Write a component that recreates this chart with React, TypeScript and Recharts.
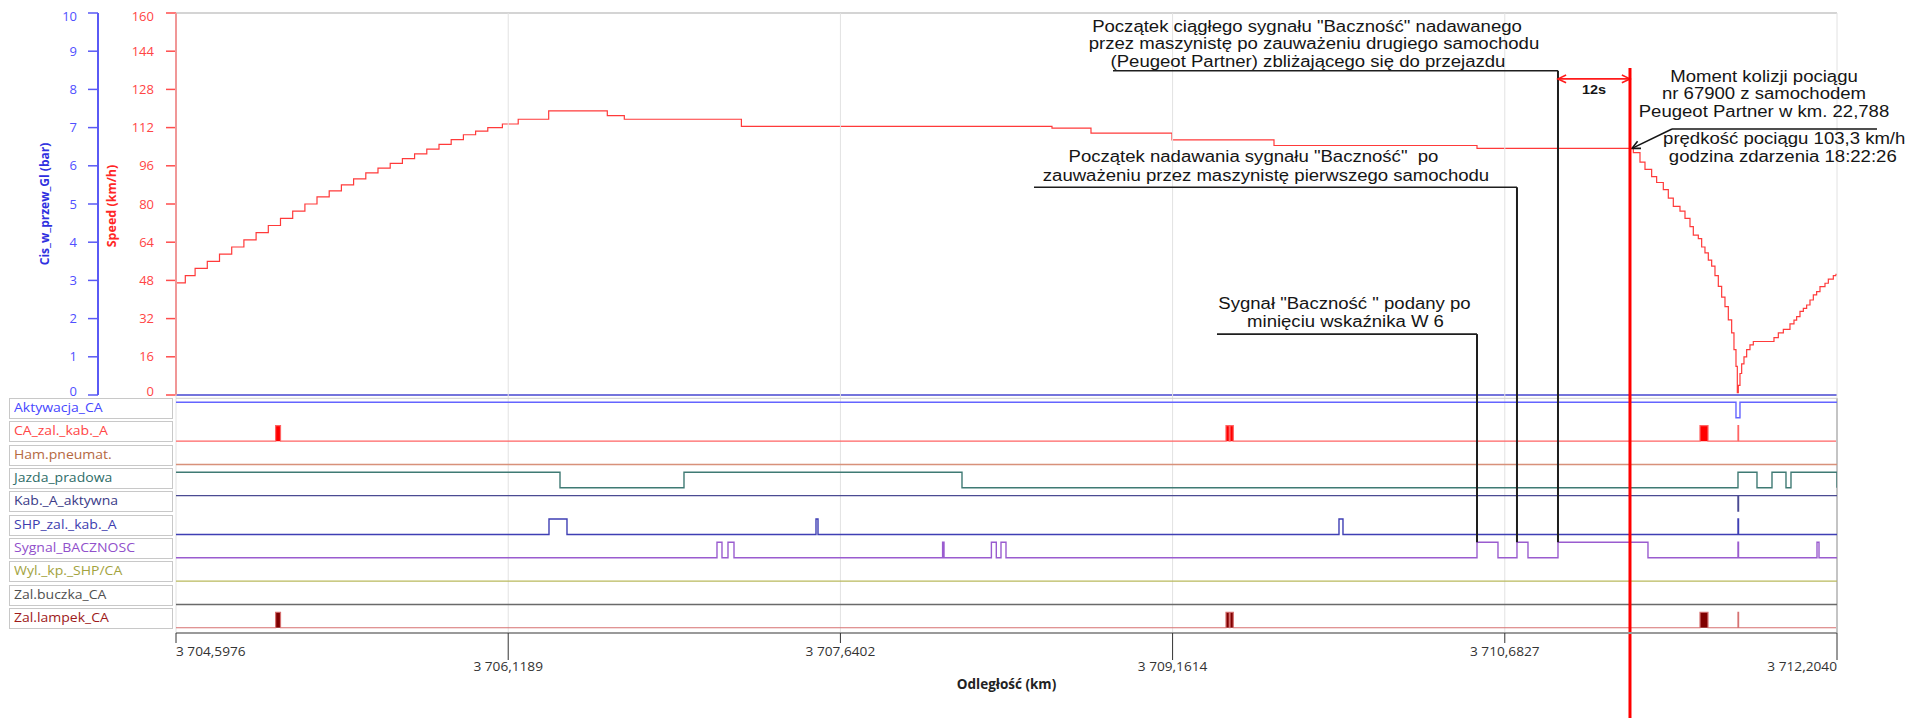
import React from 'react'
import {
  ComposedChart,
  LineChart,
  Line,
  Area,
  XAxis,
  YAxis,
  ReferenceLine,
  ReferenceDot,
  CartesianGrid,
} from 'recharts'

// distance axis (km)
const X_MIN = 3704.5976
const X_MAX = 3712.204
const X_TICKS = [3704.5976, 3706.1189, 3707.6402, 3709.1614, 3710.6827, 3712.204]
const X_TICK_LABELS = ['3 704,5976', '3 706,1189', '3 707,6402', '3 709,1614', '3 710,6827', '3 712,2040']
const SPEED_TICKS = [0, 16, 32, 48, 64, 80, 96, 112, 128, 144, 160]
const BAR_TICKS = [0, 1, 2, 3, 4, 5, 6, 7, 8, 9, 10]

// speed record (stepped)
const SPEED_KM = [
  3704.5976, 3704.6402, 3704.6851, 3704.7409, 3704.7968, 3704.8527, 3704.9085, 3704.9644, 3705.0203,
  3705.0761, 3705.132, 3705.1879, 3705.2433, 3705.2992, 3705.355, 3705.4109, 3705.4668, 3705.5226,
  3705.5785, 3705.6344, 3705.6902, 3705.7461, 3705.802, 3705.8578, 3705.9137, 3705.9696, 3706.0254,
  3706.0923, 3706.1647, 3706.3043, 3706.5727, 3706.6506, 3707.1868, 3708.6091, 3708.7877, 3709.1587,
  3709.6258, 3710.5554, 3711.2713, 3711.3018, 3711.3247, 3711.3552, 3711.3781, 3711.4086, 3711.4315,
  3711.4544, 3711.485, 3711.5079, 3711.5308, 3711.546, 3711.5689, 3711.5842, 3711.5994, 3711.6147,
  3711.63, 3711.6452, 3711.6605, 3711.6758, 3711.691, 3711.7063, 3711.7216, 3711.7322, 3711.7414,
  3711.7475, 3711.7521, 3711.7597, 3711.7674, 3711.778, 3711.7903, 3711.8055, 3711.8208, 3711.9154,
  3711.9353, 3711.9582, 3711.9887, 3712.007, 3712.0192, 3712.0345, 3712.0498, 3712.065, 3712.0803,
  3712.0956, 3712.1108, 3712.1261, 3712.149, 3712.1643, 3712.1871, 3712.1994, 3712.204,
]
const SPEED_KMH = [
  47, 50, 53, 56, 59, 62, 65, 68, 71,
  74, 77, 80, 83, 85.5, 88, 90.5, 93, 95,
  97, 99, 101, 103, 105, 107, 109, 110.5, 112,
  113.5, 115.5, 119, 117, 115.5, 112.5, 111.8, 109.7, 106.9,
  104.5, 103.3, 101.5, 97.5, 94.5, 91.5, 89, 86, 82.5,
  79, 77, 74, 70.5, 67, 65.5, 62, 59.5, 56.5,
  54, 50, 45.5, 41, 37, 31.5, 26, 19, 12,
  1, 4, 9, 13, 16, 19, 21, 22.4, 24,
  26, 27.5, 29.8, 31.4, 32.8, 35, 36.3, 37.7, 39.8,
  41.9, 43.3, 45.4, 46.8, 48.5, 50, 50.5, 50.5,
]
const PRESSURE_KM = [X_MIN, X_MAX]
const PRESSURE_BAR = [0, 0]

// binary signals (value after each change point)
const AKT_KM = [X_MIN, 3711.7414, 3711.7597, X_MAX]
const AKT_VAL = [1, 0, 1, 1]
const CA_ZAL_KM = [X_MIN, 3705.0537, 3705.0762, 3709.4059, 3709.421, 3709.4243, 3709.4394, 3711.5766, 3711.6132, 3711.7506, 3711.7534, X_MAX]
const CA_ZAL_VAL = [0, 1, 0, 1, 0, 1, 0, 1, 0, 1, 0, 1]
const HAM_KM = [X_MIN, X_MAX]
const HAM_VAL = [0, 0]
const JAZDA_KM = [X_MIN, 3706.3561, 3706.9239, 3708.197, 3711.7506, 3711.8376, 3711.9063, 3711.9704, 3711.9933, X_MAX]
const JAZDA_VAL = [1, 0, 1, 0, 1, 0, 1, 0, 1, 0]
const KAB_KM = [X_MIN, 3711.7506, 3711.753, X_MAX]
const KAB_VAL = [1, 0, 1, 1]
const SHP_KM = [X_MIN, 3706.3057, 3706.3881, 3707.5284, 3707.5376, 3709.9234, 3709.9417, 3711.7506, 3711.753, X_MAX]
const SHP_VAL = [0, 1, 0, 1, 0, 1, 0, 1, 0, 0]
const SYG_KM = [
  X_MIN, 3707.075, 3707.0979, 3707.1254, 3707.1529, 3708.1082, 3708.1146, 3708.3316, 3708.3541, 3708.3756,
  3708.3985, 3710.5554, 3710.6515, 3710.7385, 3710.7889, 3710.9263, 3711.3384, 3711.7506, 3711.753,
  3712.1124, 3712.1216, X_MAX,
]
const SYG_VAL = [0, 1, 0, 1, 0, 1, 0, 1, 0, 1, 0, 1, 0, 1, 0, 1, 0, 1, 0, 1, 0, 0]
const WYL_KM = [X_MIN, X_MAX]
const WYL_VAL = [0, 0]
const BUCZ_KM = [X_MIN, X_MAX]
const BUCZ_VAL = [0, 0]
const LAMP_KM = [X_MIN, 3705.0537, 3705.0762, 3709.4059, 3709.421, 3709.4243, 3709.4394, 3711.5766, 3711.6132, 3711.7506, 3711.7534, X_MAX]
const LAMP_VAL = [0, 1, 0, 1, 0, 1, 0, 1, 0, 1, 0, 1]

const COLLISION_KM = 3711.256
const COLLISION_KMH = 103.3

const SIGNALS = [
  { name: 'Aktywacja_CA', km: AKT_KM, val: AKT_VAL, stroke: '#6464ff', label: '#4747ff' },
  { name: 'CA_zal._kab._A', km: CA_ZAL_KM, val: CA_ZAL_VAL, stroke: '#ff6464', fill: '#ff0000', label: '#ff4646' },
  { name: 'Ham.pneumat.', km: HAM_KM, val: HAM_VAL, stroke: '#d8917a', label: '#b5693f' },
  { name: 'Jazda_pradowa', km: JAZDA_KM, val: JAZDA_VAL, stroke: '#3f7a74', label: '#2e6d68' },
  { name: 'Kab._A_aktywna', km: KAB_KM, val: KAB_VAL, stroke: '#4a4a92', label: '#3b3b88' },
  { name: 'SHP_zal._kab._A', km: SHP_KM, val: SHP_VAL, stroke: '#3f3fb4', label: '#3d3daf' },
  { name: 'Sygnal_BACZNOSC', km: SYG_KM, val: SYG_VAL, stroke: '#9a5ccf', label: '#9150cb' },
  { name: 'Wyl._kp._SHP/CA', km: WYL_KM, val: WYL_VAL, stroke: '#b9b95c', label: '#a3a33e' },
  { name: 'Zal.buczka_CA', km: BUCZ_KM, val: BUCZ_VAL, stroke: '#6a6a6a', label: '#505050' },
  { name: 'Zal.lampek_CA', km: LAMP_KM, val: LAMP_VAL, stroke: '#d67272', fill: '#800000', label: '#9e1a1a' },
]

// annotations: text lines anchored at (km, km/h)
const NOTES = [
  { km: 3709.7769, kmh: 152.2, text: 'Początek ciągłego sygnału "Baczność" nadawanego' },
  { km: 3709.8089, kmh: 144.8, text: 'przez maszynistę po zauważeniu drugiego samochodu' },
  { km: 3709.7814, kmh: 137.5, text: '(Peugeot Partner) zbliżającego się do przejazdu' },
  { km: 3709.5319, kmh: 97.6, text: 'Początek nadawania sygnału "Baczność"  po' },
  { km: 3709.5891, kmh: 89.6, text: 'zauważeniu przez maszynistę pierwszego samochodu' },
  { km: 3709.9486, kmh: 36.0, text: 'Sygnał "Baczność " podany po' },
  { km: 3709.9532, kmh: 28.4, text: 'minięciu wskaźnika W 6' },
  { km: 3711.8697, kmh: 131.2, text: 'Moment kolizji pociągu' },
  { km: 3711.8697, kmh: 124.1, text: 'nr 67900 z samochodem' },
  { km: 3711.8697, kmh: 116.6, text: 'Peugeot Partner w km. 22,788' },
  { km: 3711.9622, kmh: 105.0, text: 'prędkość pociągu 103,3 km/h' },
  { km: 3711.9558, kmh: 97.7, text: 'godzina zdarzenia 18:22:26' },
]
const LEADERS = [
  { fromKm: 3708.8885, kmh: 135.8, toKm: SYG_KM[15] },
  { fromKm: 3708.5267, kmh: 87.0, toKm: SYG_KM[13] },
  { fromKm: 3709.3647, kmh: 25.5, toKm: SYG_KM[11] },
]

// layout
const W = 1912
const H = 718
const PLOT_LEFT = 176
const PLOT_RIGHT = 1837
const PLOT_TOP = 13
const SPEED_BOTTOM = 395
const PLOT_BOTTOM = 633
const TOP_H = 420
const ROW_TOP = 398.3
const ROW_PITCH = 23.33
const ROW_LOW = 19.5
const ROW_PULSE = 15.5
const PX_PER_KMH = (SPEED_BOTTOM - PLOT_TOP) / 160
const yToKmh = (y: number) => (SPEED_BOTTOM - y) / PX_PER_KMH
const rowY = (i: number, v: number) => ROW_TOP + i * ROW_PITCH + ROW_LOW - v * ROW_PULSE
const rowDomain = (i: number) => {
  const min = -(PLOT_BOTTOM - rowY(i, 0)) / ROW_PULSE
  return [min, min + (PLOT_BOTTOM - PLOT_TOP) / ROW_PULSE]
}
const SYG_HIGH = yToKmh(rowY(6, 1))
const NOTE_SCALE = 1.16
const FONT = "'Open Sans', sans-serif"

const speedData = SPEED_KM.map((km, i) => ({ km, v: SPEED_KMH[i] }))
const pressureData = PRESSURE_KM.map((km, i) => ({ km, v: PRESSURE_BAR[i] }))

function NoteText({ cx, cy, text, size = 16, bold = false }: any) {
  return (
    <text
      x={cx}
      y={cy}
      textAnchor="middle"
      fontFamily="'Liberation Sans', Arial, sans-serif"
      fontSize={size}
      fontWeight={bold ? 700 : 400}
      fill="#151515"
      style={{ whiteSpace: 'pre' }}
      transform={`translate(${cx} 0) scale(${NOTE_SCALE} 1) translate(${-cx} 0)`}
    >
      {text}
    </text>
  )
}

// end labels are pulled inside the axis like in the recorder software
function YTick({ x, y, payload, color, first, last }: any) {
  const shift = payload.value === last ? 3.5 : payload.value === first ? -4 : 0
  return (
    <text x={x} y={y + shift} dy="0.35em" textAnchor="end" fontFamily={FONT} fontSize={13} fill={color}>
      {payload.value}
    </text>
  )
}

function head(x: number, y: number, fx: number, fy: number, size: number) {
  const a = Math.atan2(y - fy, x - fx)
  const s = 0.45
  return `M${x - size * Math.cos(a - s)},${y - size * Math.sin(a - s)} L${x},${y} L${x - size * Math.cos(a + s)},${y - size * Math.sin(a + s)}`
}

function ArrowLine({ x1, y1, x2, y2, stroke, strokeWidth, both }: any) {
  return (
    <g>
      <line x1={x1} y1={y1} x2={x2} y2={y2} stroke={stroke} strokeWidth={strokeWidth} />
      <path d={head(x2, y2, x1, y1, 9)} stroke={stroke} strokeWidth={strokeWidth} fill="none" />
      {both && <path d={head(x1, y1, x2, y2, 9)} stroke={stroke} strokeWidth={strokeWidth} fill="none" />}
    </g>
  )
}

function XTick({ x, y, payload }: any) {
  const i = X_TICKS.findIndex((t) => Math.abs(t - payload.value) < 1e-6)
  const low = i % 2 === 1
  const anchor = i === 0 ? 'start' : i === X_TICKS.length - 1 ? 'end' : 'middle'
  return (
    <g>
      <line x1={x} y1={y} x2={x} y2={y + (low ? 27 : 10)} stroke="#333" strokeWidth={1} />
      <text
        x={x}
        y={y + (low ? 38 : 23)}
        textAnchor={anchor}
        fontFamily={FONT}
        fontSize={12}
        fill="#333"
        transform={`translate(${x} 0) scale(1.14 1) translate(${-x} 0)`}
      >
        {X_TICK_LABELS[i]}
      </text>
    </g>
  )
}

export default function App() {
  return (
    <div style={{ position: 'absolute', left: 0, top: 0, width: W, height: H, background: '#fff', overflow: 'hidden' }}>
      <div style={{ position: 'absolute', left: 0, top: 0 }}>
        <LineChart
          width={W}
          height={TOP_H}
          margin={{ top: PLOT_TOP, right: W - PLOT_RIGHT, bottom: TOP_H - SPEED_BOTTOM, left: 0 }}
        >
          <XAxis type="number" dataKey="km" domain={[X_MIN, X_MAX]} allowDataOverflow hide />
          {/* "kmh" sorts before "pressure", so the speed axis sits next to the plot */}
          <YAxis
            yAxisId="kmh"
            width={PLOT_LEFT - 98}
            domain={[0, 160]}
            ticks={SPEED_TICKS}
            interval={0}
            tickSize={10}
            tickMargin={12}
            axisLine={{ stroke: '#ff4d4d', strokeWidth: 2 }}
            tickLine={{ stroke: '#ff4d4d', strokeWidth: 1.5 }}
            tick={(p: any) => <YTick {...p} color="#ff4545" first={0} last={160} />}
          />
          <YAxis
            yAxisId="pressure"
            width={98}
            domain={[0, 10]}
            ticks={BAR_TICKS}
            interval={0}
            tickSize={10}
            tickMargin={11}
            axisLine={{ stroke: '#5a5af5', strokeWidth: 2 }}
            tickLine={{ stroke: '#5a5af5', strokeWidth: 1.5 }}
            tick={(p: any) => <YTick {...p} color="#5050ff" first={0} last={10} />}
          />
          <ReferenceLine yAxisId="kmh" y={160} stroke="#d4d4d4" strokeWidth={2} />
          <Line
            yAxisId="pressure"
            data={pressureData}
            dataKey="v"
            type="linear"
            stroke="#4646d0"
            strokeWidth={1.5}
            dot={false}
            activeDot={false}
            isAnimationActive={false}
          />
          <Line
            yAxisId="kmh"
            data={speedData}
            dataKey="v"
            type="stepAfter"
            stroke="#ff3a3a"
            strokeWidth={1.2}
            dot={false}
            activeDot={false}
            isAnimationActive={false}
          />
        </LineChart>
      </div>

      <div style={{ position: 'absolute', left: 0, top: 0 }}>
        <ComposedChart
          width={W}
          height={H}
          margin={{ top: PLOT_TOP, right: W - PLOT_RIGHT, bottom: H - PLOT_BOTTOM - 60, left: PLOT_LEFT }}
        >
          <CartesianGrid horizontal={false} stroke="#e2e2e2" />
          <XAxis
            type="number"
            dataKey="km"
            domain={[X_MIN, X_MAX]}
            allowDataOverflow
            ticks={X_TICKS}
            interval={0}
            height={60}
            tickSize={0}
            tickMargin={0}
            tick={(p: any) => <XTick {...p} />}
            axisLine={{ stroke: '#9a9a9a', strokeWidth: 2 }}
            label={{
              value: 'Odległość (km)',
              position: 'insideBottom',
              offset: 4,
              fill: '#222',
              fontSize: 13.5,
              fontWeight: 700,
              fontFamily: FONT,
            }}
          />
          <YAxis domain={[yToKmh(PLOT_BOTTOM), 160]} allowDataOverflow hide />
          {SIGNALS.map((s, i) => (
            <YAxis key={'ax' + i} yAxisId={'row' + i} domain={rowDomain(i)} allowDataOverflow hide />
          ))}

          <ReferenceLine
            segment={[{ x: X_MIN, y: yToKmh(ROW_TOP) }, { x: X_MAX, y: yToKmh(ROW_TOP) }]}
            stroke="#d0d0d0"
            strokeWidth={1}
            ifOverflow="visible"
          />
          <ReferenceLine
            segment={[{ x: X_MAX, y: yToKmh(ROW_TOP) }, { x: X_MAX, y: yToKmh(PLOT_BOTTOM) }]}
            stroke="#c4c4c4"
            strokeWidth={2}
            ifOverflow="visible"
          />

          {SIGNALS.map((s, i) => {
            const data = s.km.map((km, j) => ({ km, v: s.val[j] }))
            return s.fill ? (
              <Area
                key={s.name}
                yAxisId={'row' + i}
                data={data}
                dataKey="v"
                type="stepAfter"
                baseValue={0}
                stroke={s.stroke}
                strokeWidth={1.2}
                fill={s.fill}
                fillOpacity={1}
                dot={false}
                activeDot={false}
                isAnimationActive={false}
              />
            ) : (
              <Line
                key={s.name}
                yAxisId={'row' + i}
                data={data}
                dataKey="v"
                type="stepAfter"
                stroke={s.stroke}
                strokeWidth={1.4}
                dot={false}
                activeDot={false}
                isAnimationActive={false}
              />
            )
          })}

          {LEADERS.map((l, i) => (
            <ReferenceLine
              key={'lh' + i}
              segment={[{ x: l.fromKm, y: l.kmh }, { x: l.toKm, y: l.kmh }]}
              stroke="#1e1e1e"
              strokeWidth={1.6}
              ifOverflow="visible"
            />
          ))}
          {LEADERS.map((l, i) => (
            <ReferenceLine
              key={'lv' + i}
              segment={[{ x: l.toKm, y: l.kmh }, { x: l.toKm, y: SYG_HIGH }]}
              stroke="#1e1e1e"
              strokeWidth={2}
              ifOverflow="visible"
            />
          ))}

          <ReferenceLine
            segment={[{ x: 3711.4484, y: 111.4 }, { x: 3712.3871, y: 111.4 }]}
            stroke="#151515"
            strokeWidth={1.6}
            ifOverflow="visible"
          />
          <ReferenceLine
            segment={[{ x: 3711.4484, y: 111.4 }, { x: COLLISION_KM + 0.0092, y: COLLISION_KMH }]}
            stroke="#151515"
            strokeWidth={1.6}
            ifOverflow="visible"
            shape={(p: any) => <ArrowLine {...p} />}
          />
          <ReferenceLine
            segment={[{ x: SYG_KM[15], y: 132.4 }, { x: COLLISION_KM, y: 132.4 }]}
            stroke="#ff1a1a"
            strokeWidth={1.6}
            ifOverflow="visible"
            shape={(p: any) => <ArrowLine {...p} both />}
          />
          <ReferenceLine
            segment={[{ x: COLLISION_KM, y: 137 }, { x: COLLISION_KM, y: yToKmh(H + 10) }]}
            stroke="#ff0000"
            strokeWidth={3}
            ifOverflow="visible"
          />

          {NOTES.map((n, i) => (
            <ReferenceDot
              key={'note' + i}
              x={n.km}
              y={n.kmh}
              ifOverflow="visible"
              shape={(p: any) => <NoteText cx={p.cx} cy={p.cy} text={n.text} />}
            />
          ))}
          <ReferenceDot
            x={3711.0912}
            y={126.1}
            ifOverflow="visible"
            shape={(p: any) => <NoteText cx={p.cx} cy={p.cy} text="12s" size={12.5} bold />}
          />
        </ComposedChart>
      </div>

      {SIGNALS.map((s, i) => (
        <div
          key={'lbl' + i}
          style={{
            position: 'absolute',
            left: 9,
            top: ROW_TOP + i * ROW_PITCH - 0.3,
            width: 164,
            height: 21,
            boxSizing: 'border-box',
            border: '1.5px solid #c8c8c8',
            background: '#fff',
            fontFamily: FONT,
            fontSize: 12.5,
            lineHeight: '18px',
            color: s.label,
            paddingLeft: 4,
            whiteSpace: 'nowrap',
            overflow: 'hidden',
          }}
        >
          <span style={{ display: 'inline-block', transform: 'scaleX(1.12)', transformOrigin: 'left center' }}>
            {s.name}
          </span>
        </div>
      ))}

      <div
        style={{
          position: 'absolute',
          left: 43.5,
          top: 204,
          transform: 'translate(-50%, -50%) rotate(-90deg)',
          whiteSpace: 'nowrap',
          fontFamily: FONT,
          fontWeight: 700,
          fontSize: 12,
          color: '#2f2fe0',
        }}
      >
        Cis_w_przew_Gl (bar)
      </div>
      <div
        style={{
          position: 'absolute',
          left: 111,
          top: 206,
          transform: 'translate(-50%, -50%) rotate(-90deg)',
          whiteSpace: 'nowrap',
          fontFamily: FONT,
          fontWeight: 700,
          fontSize: 12.5,
          color: '#ff2626',
        }}
      >
        Speed (km/h)
      </div>
    </div>
  )
}
